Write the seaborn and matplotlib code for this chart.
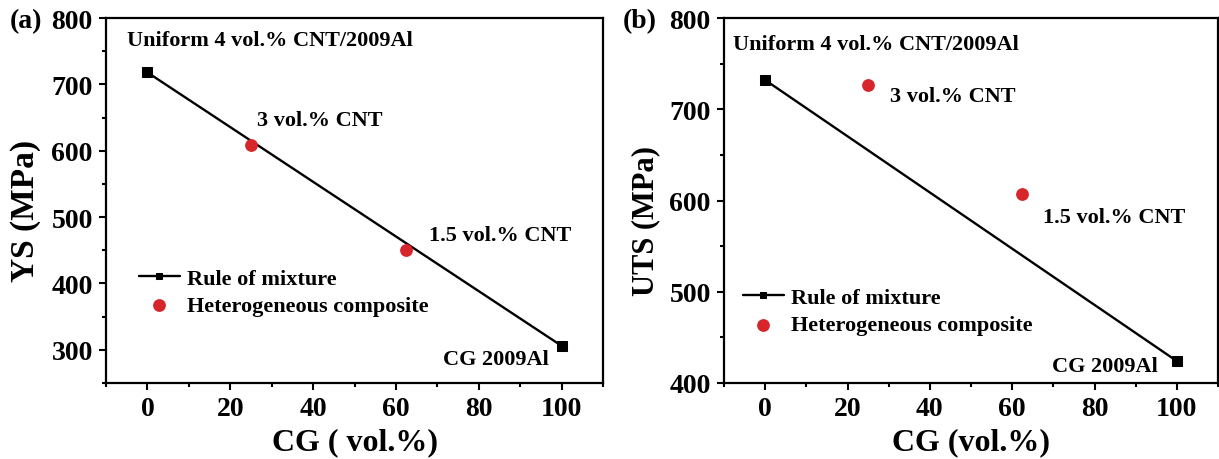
import pandas as pd
import matplotlib.pyplot as plt
from matplotlib.ticker import MultipleLocator
import seaborn as sns

# rule of mixture end points (CG vol.%)
rom_cg = [0, 100]
rom_ys = [718, 306]
rom_uts = [732, 424]

# heterogeneous composites
het_cg = [25, 62.5]
het_ys = [608, 450]
het_uts = [727, 607]

sns.set_style("ticks")
plt.rcParams['font.family'] = ['Liberation Serif', 'DejaVu Serif']
plt.rcParams['font.weight'] = 'bold'
plt.rcParams['axes.labelweight'] = 'bold'
for k in ['text.color', 'axes.labelcolor', 'xtick.color', 'ytick.color']:
    plt.rcParams[k] = 'black'

red = '#d7262b'

fig = plt.figure(figsize=(12.19, 4.6), dpi=100)
ax1 = fig.add_axes([106/1219, 76/460, 497/1219, 365/460])
ax2 = fig.add_axes([724/1219, 76/460, 494/1219, 365/460])

panels = [
    (ax1, rom_ys, het_ys, 'YS (MPa)', 24, 0.474, 'CG ( vol.%)', (250, 800),
     [(-5, 767, 'Uniform 4 vol.% CNT/2009Al'), (26.5, 646, '3 vol.% CNT'),
      (67.9, 473, '1.5 vol.% CNT'), (71.3, 286, 'CG 2009Al')],
     (0.066, 0.249), '(a)', 10 / 1219),
    (ax2, rom_uts, het_uts, 'UTS (MPa)', 22, 0.447, 'CG (vol.%)', (400, 800),
     [(-7.8, 771, 'Uniform 4 vol.% CNT/2009Al'), (30.4, 714, '3 vol.% CNT'),
      (67.4, 582, '1.5 vol.% CNT'), (69.6, 419, 'CG 2009Al')],
     (0.038, 0.196), '(b)', 623 / 1219),
]

for ax, rom, het, ylab, ysize, ypos, xlab, ylim, notes, legpos, tag, tagx in panels:
    rom_df = pd.DataFrame({'cg': rom_cg, 'v': rom})
    het_df = pd.DataFrame({'cg': het_cg, 'v': het})
    sns.lineplot(data=rom_df, x='cg', y='v', ax=ax, color='black', lw=1.7,
                 marker='s', markersize=7, markeredgecolor='black',
                 label='Rule of mixture')
    sns.scatterplot(data=het_df, x='cg', y='v', ax=ax, color=red, s=85,
                    edgecolor=red, linewidth=0, label='Heterogeneous composite',
                    zorder=3)
    ax.set_xlim(-10, 110)
    ax.set_ylim(*ylim)
    ax.xaxis.set_major_locator(MultipleLocator(20))
    ax.xaxis.set_minor_locator(MultipleLocator(10))
    ax.yaxis.set_major_locator(MultipleLocator(100))
    ax.yaxis.set_minor_locator(MultipleLocator(50))
    ax.tick_params(which='both', direction='out', width=1.5, labelsize=20,
                   top=False, right=False, color='black')
    ax.tick_params(which='major', length=5, pad=4.5)
    ax.tick_params(which='minor', length=3)
    for sp in ax.spines.values():
        sp.set_linewidth(1.6)
        sp.set_color('black')
    ax.set_xlabel(xlab, fontsize=23, labelpad=4)
    ax.set_ylabel(ylab, fontsize=ysize)
    ax.yaxis.set_label_coords(-0.13, ypos)
    for x, y, t in notes:
        ax.text(x, y, t, fontsize=16, fontweight='bold', va='center', ha='left')
    leg = ax.legend(loc='center left', bbox_to_anchor=legpos, frameon=False,
                    fontsize=16, handlelength=1.85, handletextpad=0.3,
                    labelspacing=0.3, borderpad=0, borderaxespad=0)
    leg.legend_handles[0].set_markersize(5)
    fig.text(tagx, 1 - 22 / 460, tag, fontsize=20, fontweight='bold',
             va='center', ha='left')

fig.savefig('out.png', dpi=100)
